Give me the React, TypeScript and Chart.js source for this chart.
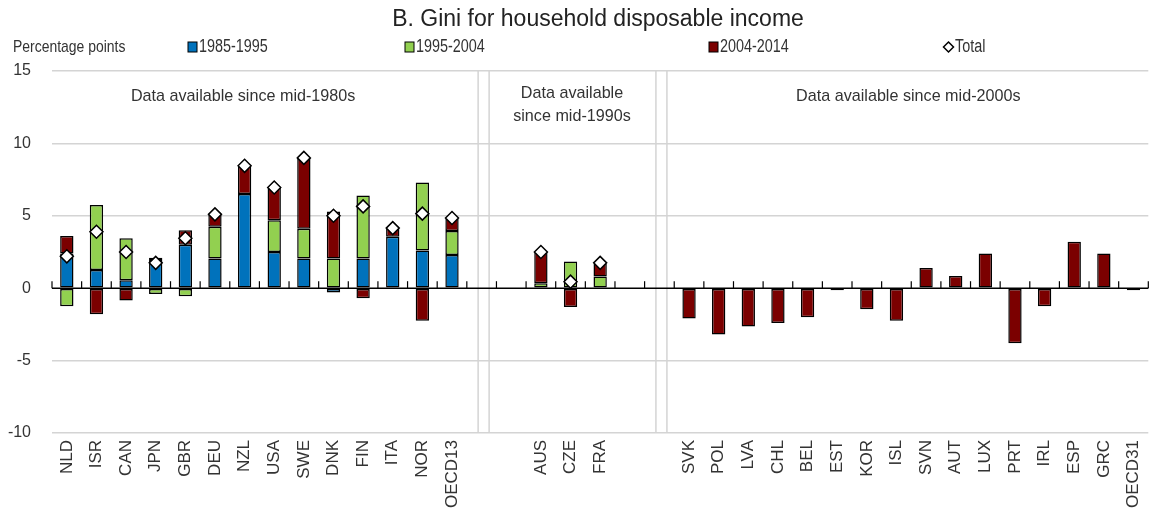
import React, { useEffect, useRef } from 'react';
import { Chart, registerables } from 'chart.js';

Chart.register(...registerables);

const FONT = "'Liberation Sans', Arial, sans-serif";

const categories = [
  'NLD', 'ISR', 'CAN', 'JPN', 'GBR', 'DEU', 'NZL', 'USA', 'SWE', 'DNK', 'FIN', 'ITA', 'NOR', 'OECD13',
  '', '',
  'AUS', 'CZE', 'FRA',
  '', '',
  'SVK', 'POL', 'LVA', 'CHL', 'BEL', 'EST', 'KOR', 'ISL', 'SVN', 'AUT', 'LUX', 'PRT', 'IRL', 'ESP', 'GRC', 'OECD31',
];

const period1985to1995 = [
  2.4, 1.25, 0.55, 1.95, 3.0, 2.05, 6.5, 2.5, 2.05, -0.3, 2.05, 3.55, 2.6, 2.3,
  null, null,
  null, null, null,
  null, null,
  null, null, null, null, null, null, null, null, null, null, null, null, null, null, null, null,
];

const period1995to2004 = [
  -1.25, 4.5, 2.9, -0.4, -0.55, 2.2, 0, 2.2, 2.05, 2.05, 4.35, 0, 4.7, 1.65,
  null, null,
  0.35, 1.85, 0.8,
  null, null,
  null, null, null, null, null, null, null, null, null, null, null, null, null, null, null, null,
];

const period2004to2014 = [
  1.2, -1.8, -0.85, 0.15, 1.0, 0.9, 1.95, 2.25, 4.9, 3.25, -0.7, 0.6, -2.25, 0.85,
  null, null,
  2.15, -1.3, 0.9,
  null, null,
  -2.1, -3.2, -2.65, -2.4, -2.0, -0.15, -1.45, -2.25, 1.4, 0.85, 2.4, -3.8, -1.25, 3.2, 2.4, -0.15,
];

const totalChange = [
  2.2, 3.9, 2.5, 1.75, 3.45, 5.1, 8.45, 6.95, 9.0, 5.0, 5.65, 4.15, 5.15, 4.85,
  null, null,
  2.5, 0.45, 1.75,
  null, null,
  null, null, null, null, null, null, null, null, null, null, null, null, null, null, null, null,
];

const seriesLabels = ['1985-1995', '1995-2004', '2004-2014', 'Total'];
const seriesColors = ['#0072BC', '#92D050', '#7B0000', '#FFFFFF'];
const separatorSlots = [14, 20];
const panelLabels = [
  { at: 5.95, lines: ['Data available since mid-1980s'] },
  { at: 17.05, lines: ['Data available', 'since mid-1990s'] },
  { at: 28.4, lines: ['Data available since mid-2000s'] },
];
const chartTitle = 'B. Gini for household disposable income';
const unitLabel = 'Percentage points';
const legendX = [188, 405, 709, 944];

function condensedText(ctx: CanvasRenderingContext2D, text: string, x: number, y: number, sx: number) {
  ctx.save();
  ctx.translate(x, y);
  ctx.scale(sx, 1);
  ctx.fillText(text, 0, 0);
  ctx.restore();
}

const decorPlugin = {
  id: 'decor',
  beforeDatasetsDraw(chart: any) {
    const { ctx, chartArea } = chart;
    const x = chart.scales.x;
    const y = chart.scales.y;
    ctx.save();
    ctx.strokeStyle = '#d4d4d4';
    ctx.lineWidth = 1.5;
    separatorSlots.forEach((s) => {
      const c = x.getPixelForValue(s) + 2;
      [-5.5, 5.5].forEach((d) => {
        ctx.beginPath();
        ctx.moveTo(c + d, chartArea.top);
        ctx.lineTo(c + d, chartArea.bottom);
        ctx.stroke();
      });
    });
    const y0 = y.getPixelForValue(0);
    ctx.strokeStyle = '#000';
    ctx.lineWidth = 1.5;
    ctx.beginPath();
    ctx.moveTo(chartArea.left, y0);
    ctx.lineTo(chartArea.right, y0);
    ctx.stroke();
    const n = categories.length;
    ctx.lineWidth = 1.2;
    for (let i = 0; i <= n; i++) {
      const px = x.getPixelForValue(i - 0.5);
      ctx.beginPath();
      ctx.moveTo(px, y0);
      ctx.lineTo(px, y0 - 7);
      ctx.stroke();
    }
    ctx.restore();
  },
  afterDraw(chart: any) {
    const { ctx, chartArea } = chart;
    const x = chart.scales.x;
    ctx.save();
    ctx.fillStyle = '#222';
    ctx.font = `23px ${FONT}`;
    ctx.textAlign = 'center';
    ctx.textBaseline = 'middle';
    ctx.fillText(chartTitle, 598, 20);

    ctx.font = `17px ${FONT}`;
    ctx.fillStyle = '#333';
    ctx.textAlign = 'left';
    condensedText(ctx, unitLabel, 13, 47, 0.82);

    ctx.font = `18px ${FONT}`;
    seriesLabels.forEach((lab, i) => {
      const lx = legendX[i];
      const ly = 47;
      if (i < 3) {
        ctx.fillStyle = seriesColors[i];
        ctx.fillRect(lx, ly - 5, 9, 10);
        ctx.strokeStyle = '#000';
        ctx.lineWidth = 1;
        ctx.strokeRect(lx, ly - 5, 9, 10);
      } else {
        ctx.fillStyle = '#fff';
        ctx.strokeStyle = '#000';
        ctx.lineWidth = 1.5;
        ctx.beginPath();
        ctx.moveTo(lx + 4.5, ly - 5);
        ctx.lineTo(lx + 9.5, ly);
        ctx.lineTo(lx + 4.5, ly + 5);
        ctx.lineTo(lx - 0.5, ly);
        ctx.closePath();
        ctx.fill();
        ctx.stroke();
      }
      ctx.fillStyle = '#333';
      ctx.textAlign = 'left';
      condensedText(ctx, lab, lx + 11, ly, 0.8);
    });

    ctx.textAlign = 'center';
    ctx.fillStyle = '#333';
    ctx.font = `17px ${FONT}`;
    panelLabels.forEach((p) => {
      const cx = x.getPixelForValue(p.at);
      const startY = p.lines.length > 1 ? chartArea.top + 22 : chartArea.top + 25;
      p.lines.forEach((t, k) => {
        condensedText(ctx, t, cx, startY + k * 23, 0.95);
      });
    });
    ctx.restore();
  },
};

export default function App() {
  const canvasRef = useRef<HTMLCanvasElement | null>(null);

  useEffect(() => {
    document.body.style.margin = '0';
    const canvas = canvasRef.current;
    if (!canvas) return;
    const barCommon = {
      type: 'bar' as const,
      borderColor: '#000',
      borderWidth: 1.5,
      borderSkipped: false,
      barPercentage: 0.45,
      categoryPercentage: 1,
      stack: 'bars',
      order: 1,
    };
    const chart = new Chart(canvas, {
      type: 'bar',
      data: {
        labels: categories,
        datasets: [
          { ...barCommon, label: seriesLabels[0], data: period1985to1995, backgroundColor: seriesColors[0] },
          { ...barCommon, label: seriesLabels[1], data: period1995to2004, backgroundColor: seriesColors[1] },
          { ...barCommon, label: seriesLabels[2], data: period2004to2014, backgroundColor: seriesColors[2] },
          {
            type: 'line',
            label: seriesLabels[3],
            data: totalChange,
            showLine: false,
            stack: 'total',
            order: 0,
            pointStyle: 'rectRot',
            pointRadius: 6.5,
            pointBackgroundColor: '#fff',
            pointBorderColor: '#000',
            pointBorderWidth: 1.5,
            pointHoverRadius: 6.5,
          } as any,
        ],
      },
      options: {
        responsive: false,
        animation: false,
        layout: { padding: { top: 71, left: 0, right: 0, bottom: 0 } },
        plugins: {
          legend: { display: false },
          title: { display: false },
          tooltip: { enabled: false },
        },
        scales: {
          x: {
            stacked: true,
            offset: true,
            grid: { display: false, drawTicks: false },
            border: { display: false },
            ticks: {
              autoSkip: false,
              minRotation: 90,
              maxRotation: 90,
              padding: 7,
              color: '#333',
              font: { family: FONT, size: 17 },
            },
            afterFit: (s: any) => {
              s.height = 80;
            },
          },
          y: {
            stacked: true,
            min: -10,
            max: 15,
            ticks: {
              stepSize: 5,
              padding: 21,
              color: '#333',
              font: { family: FONT, size: 16 },
            },
            grid: {
              drawTicks: false,
              color: (c: any) => (c.tick && c.tick.value === 0 ? 'rgba(0,0,0,0)' : '#d4d4d4'),
              lineWidth: 1.5,
            },
            border: { display: false },
            afterFit: (s: any) => {
              s.width = 52;
            },
          },
        },
      },
      plugins: [decorPlugin],
    });
    return () => chart.destroy();
  }, []);

  return (
    <div style={{ position: 'absolute', left: 0, top: 0, width: 1161, height: 513 }}>
      <canvas ref={canvasRef} width={1161} height={513} />
    </div>
  );
}
